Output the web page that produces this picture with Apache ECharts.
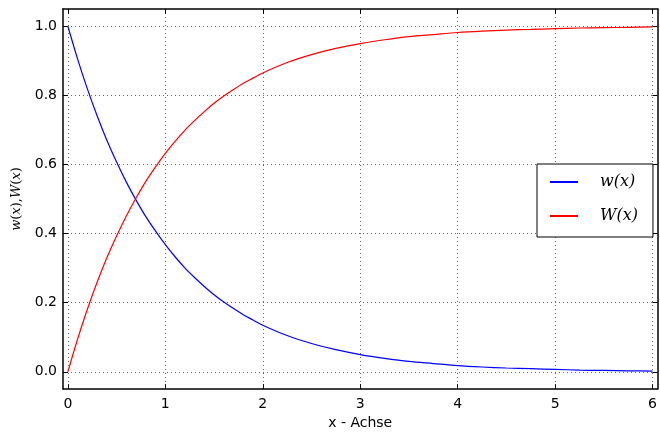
<!DOCTYPE html>
<html>
<head>
<meta charset="utf-8">
<script src="https://cdn.jsdelivr.net/npm/echarts@6/dist/echarts.min.js"></script>
<style>
  html, body { margin: 0; padding: 0; background: #fff; }
  #chart { width: 660px; height: 435px; }
</style>
</head>
<body>
<div id="chart"></div>
<script>
// values
const xValues = [0, 0.1, 0.2, 0.3, 0.4, 0.5, 0.6, 0.7, 0.8, 0.9, 1, 1.1, 1.2, 1.3,
  1.4, 1.5, 1.6, 1.7, 1.8, 1.9, 2, 2.25, 2.5, 2.75, 3, 3.25, 3.5, 3.75, 4, 4.25,
  4.5, 4.75, 5, 5.25, 5.5, 5.75, 6];
const wValues = [1.000, 0.905, 0.819, 0.741, 0.670, 0.607, 0.549, 0.497, 0.449,
  0.407, 0.368, 0.333, 0.301, 0.273, 0.247, 0.223, 0.202, 0.183, 0.165, 0.150,
  0.135, 0.105, 0.082, 0.064, 0.050, 0.039, 0.030, 0.024, 0.018, 0.014, 0.011,
  0.009, 0.007, 0.005, 0.004, 0.003, 0.002];
const bigWValues = [0.000, 0.095, 0.181, 0.259, 0.330, 0.393, 0.451, 0.503, 0.551,
  0.593, 0.632, 0.667, 0.699, 0.727, 0.753, 0.777, 0.798, 0.817, 0.835, 0.850,
  0.865, 0.895, 0.918, 0.936, 0.950, 0.961, 0.970, 0.976, 0.982, 0.986, 0.989,
  0.991, 0.993, 0.995, 0.996, 0.997, 0.998];
const xTicks = [0, 1, 2, 3, 4, 5, 6];
const yTicks = [0, 0.2, 0.4, 0.6, 0.8, 1.0];
const seriesNames = ['w(x)', 'W(x)'];

const chart = echarts.init(document.getElementById('chart'));

const gridLine = { show: true, lineStyle: { color: '#666', width: 1, type: [1, 3] } };
const frameLine = { show: true, onZero: false, lineStyle: { color: '#000', width: 1.5 } };
const tickIn = (vals) => ({ show: true, inside: true, length: 5, customValues: vals, lineStyle: { color: '#000' } });
const mathRich = {
  i: { fontFamily: 'DejaVu Serif', fontStyle: 'italic', fontSize: 13, color: '#000' },
  n: { fontFamily: 'DejaVu Serif', fontSize: 13, color: '#000' }
};

const toPairs = (ys) => xValues.map((x, i) => [x, ys[i]]);

const option = {
  animation: false,
  grid: { left: 63, right: 1, top: 9, bottom: 43 },
  xAxis: [
    {
      type: 'value', min: -0.05, max: 6.05, position: 'bottom',
      axisLine: frameLine,
      axisTick: tickIn(xTicks),
      axisLabel: { customValues: xTicks, fontFamily: 'DejaVu Sans', fontSize: 14, color: '#000', margin: 8 },
      splitLine: gridLine,
      name: 'x - Achse', nameLocation: 'middle', nameGap: 26,
      nameTextStyle: { fontFamily: 'DejaVu Sans', fontSize: 14, color: '#000' }
    },
    {
      type: 'value', min: -0.05, max: 6.05, position: 'top',
      axisLine: frameLine, axisTick: tickIn(xTicks),
      axisLabel: { show: false }, splitLine: { show: false }
    }
  ],
  yAxis: [
    {
      type: 'value', min: -0.05, max: 1.05, position: 'left',
      axisLine: frameLine,
      axisTick: tickIn(yTicks),
      axisLabel: {
        customValues: yTicks, fontFamily: 'DejaVu Sans', fontSize: 14, color: '#000', margin: 6,
        formatter: (v) => v.toFixed(1)
      },
      splitLine: gridLine,
      name: '{i|w}{n|(}{i|x}{n|),}{i|W}{n|(}{i|x}{n|)}', nameLocation: 'middle', nameGap: 40,
      nameTextStyle: { rich: mathRich }
    },
    {
      type: 'value', min: -0.05, max: 1.05, position: 'right',
      axisLine: frameLine, axisTick: tickIn(yTicks),
      axisLabel: { show: false }, splitLine: { show: false }
    }
  ],
  legend: {
    orient: 'vertical',
    left: 537, top: 164,
    padding: [8, 15, 11, 13],
    itemGap: 14,
    itemWidth: 28, itemHeight: 2,
    icon: 'rect',
    backgroundColor: '#fff',
    borderColor: '#000', borderWidth: 1, borderRadius: 0,
    textStyle: {
      fontFamily: 'DejaVu Serif', fontStyle: 'italic', fontSize: 16, color: '#000',
      lineHeight: 20, padding: [0, 0, 0, 17]
    },
    data: seriesNames
  },
  series: [
    {
      name: seriesNames[0], type: 'line', data: toPairs(wValues),
      smooth: 0.3, symbol: 'none',
      lineStyle: { color: '#0000ff', width: 1.2 }, itemStyle: { color: '#0000ff' }
    },
    {
      name: seriesNames[1], type: 'line', data: toPairs(bigWValues),
      smooth: 0.3, symbol: 'none',
      lineStyle: { color: '#ff0000', width: 1.2 }, itemStyle: { color: '#ff0000' }
    }
  ]
};

chart.setOption(option);
</script>
</body>
</html>
